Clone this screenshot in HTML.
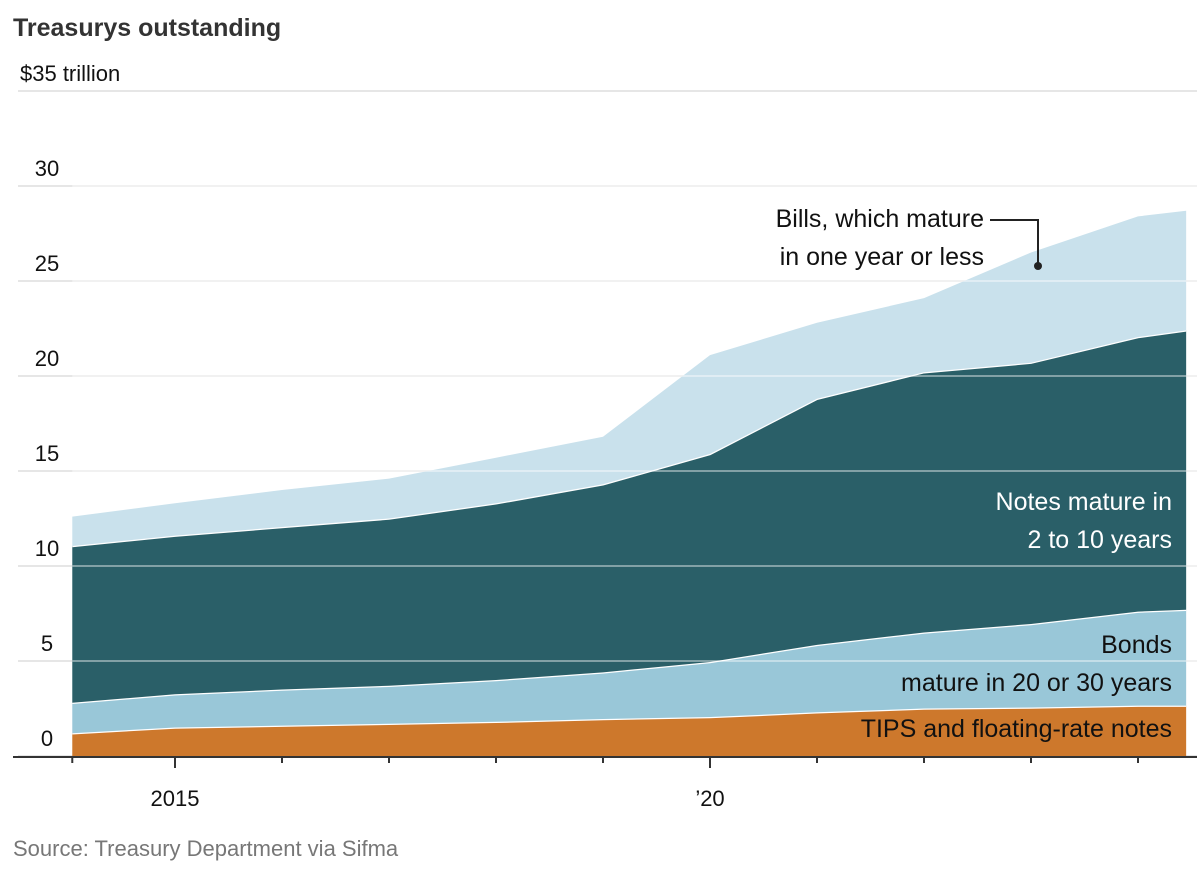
<!DOCTYPE html>
<html><head><meta charset="utf-8">
<style>
body{margin:0;background:#fff;width:1200px;height:881px;overflow:hidden;font-family:"Liberation Sans",sans-serif;}
svg text{font-family:"Liberation Sans",sans-serif;}
</style></head>
<body>
<svg id="chart" width="1200" height="881" xmlns="http://www.w3.org/2000/svg">
<text x="13" y="36" font-size="25" font-weight="bold" fill="#333">Treasurys outstanding</text>
<g id="grid"></g>
<g id="areas"></g>
<g id="axis"></g>
<g>
<text x="984" y="227" font-size="25" fill="#111" text-anchor="end">Bills, which mature</text>
<text x="984" y="265" font-size="25" fill="#111" text-anchor="end">in one year or less</text>
<polyline points="990,220 1038,220 1038,266" fill="none" stroke="#222" stroke-width="2"/>
<circle cx="1038" cy="266" r="4" fill="#222"/>
</g>
<text x="1172" y="510" font-size="25" fill="#fff" text-anchor="end">Notes mature in</text>
<text x="1172" y="548" font-size="25" fill="#fff" text-anchor="end">2 to 10 years</text>
<text x="1172" y="653" font-size="25" fill="#111" text-anchor="end">Bonds</text>
<text x="1172" y="691" font-size="25" fill="#111" text-anchor="end">mature in 20 or 30 years</text>
<text x="1172" y="737" font-size="25" fill="#111" text-anchor="end">TIPS and floating-rate notes</text>
<text x="13" y="856" font-size="22" fill="#777">Source: Treasury Department via Sifma</text>
</svg>
<script>
const years=[2014.04,2015,2016,2017,2018,2019,2020,2021,2022,2023,2024,2024.45];
const tips=[1.2,1.5,1.6,1.7,1.8,1.95,2.05,2.3,2.5,2.55,2.65,2.65];
const bonds=[1.6,1.75,1.9,2.0,2.2,2.45,2.9,3.55,4.0,4.4,4.95,5.05];
const notes=[8.25,8.35,8.55,8.8,9.3,9.9,10.95,12.95,13.7,13.75,14.45,14.7];
const bills=[1.55,1.7,1.95,2.1,2.4,2.5,5.2,4.0,3.9,5.8,6.35,6.3];
const yTicks=[0,5,10,15,20,25,30,35];
const yTickLabels=["0","5","10","15","20","25","30","$35 trillion"];
const xMajor=[2015,2020];
const xMajorLabels=["2015","\u201920"];
const xMinor=[2014.04,2016,2017,2018,2019,2021,2022,2023,2024];
const NS="http://www.w3.org/2000/svg";
const x=v=>175+(v-2015)*107;
const y=v=>756-v*19;
function mk(tag,attrs,parent){const e=document.createElementNS(NS,tag);for(const k in attrs)e.setAttribute(k,attrs[k]);parent.appendChild(e);return e;}
const grid=document.getElementById('grid'),areas=document.getElementById('areas'),axis=document.getElementById('axis');
yTicks.forEach((t,i)=>{
 const l=mk('line',{x1:18,x2:1197,y1:y(t),y2:y(t),stroke:'#ddd','stroke-width':1.5},grid);
 
 
 const tx=mk('text',{x:i==7?20:47,y:y(t)-10,'font-size':22,fill:'#111'},grid);
 if(i<7)tx.setAttribute('text-anchor','middle');
 tx.textContent=yTickLabels[i];
 
 
});
const series=[tips,bonds,notes,bills];
const colors=['#cd782c','#99c7d8','#2a5f68','#c9e1ec'];
const names=['area-tips','area-bonds','area-notes','area-bills'];
let base=years.map(()=>0);
series.forEach((s,k)=>{
 const top=base.map((b,i)=>b+s[i]);
 let d='M'+years.map((yr,i)=>x(yr)+','+y(top[i])).join(' L');
 for(let i=years.length-1;i>=0;i--)d+=' L'+x(years[i])+','+y(base[i]);
 d+='Z';
 const p=mk('path',{d:d,fill:colors[k]},areas);
 
 
 if(k<3){const ln=mk('polyline',{points:years.map((yr,i)=>x(yr)+','+y(top[i])).join(' '),fill:'none',stroke:'#fff','stroke-width':2.5},areas);
 
 }
 base=top;
});
yTicks.slice(1,7).forEach(t=>{const l=mk('line',{x1:x(years[0]),x2:1197,y1:y(t),y2:y(t),stroke:'#fff','stroke-opacity':0.55,'stroke-width':1.5},areas);
 
 });
const ax=mk('line',{x1:13,x2:1197,y1:757,y2:757,stroke:'#333','stroke-width':2},axis);


xMinor.forEach(v=>{const t=mk('line',{x1:x(v),x2:x(v),y1:757,y2:763,stroke:'#333','stroke-width':2},axis);
 
 });
xMajor.forEach((v,i)=>{const t=mk('line',{x1:x(v),x2:x(v),y1:757,y2:768,stroke:'#333','stroke-width':2},axis);
 
 
 const tx=mk('text',{x:x(v),y:806,'font-size':22,fill:'#111','text-anchor':'middle'},axis);
 tx.textContent=xMajorLabels[i];
 
 });
</script>
</body></html>
